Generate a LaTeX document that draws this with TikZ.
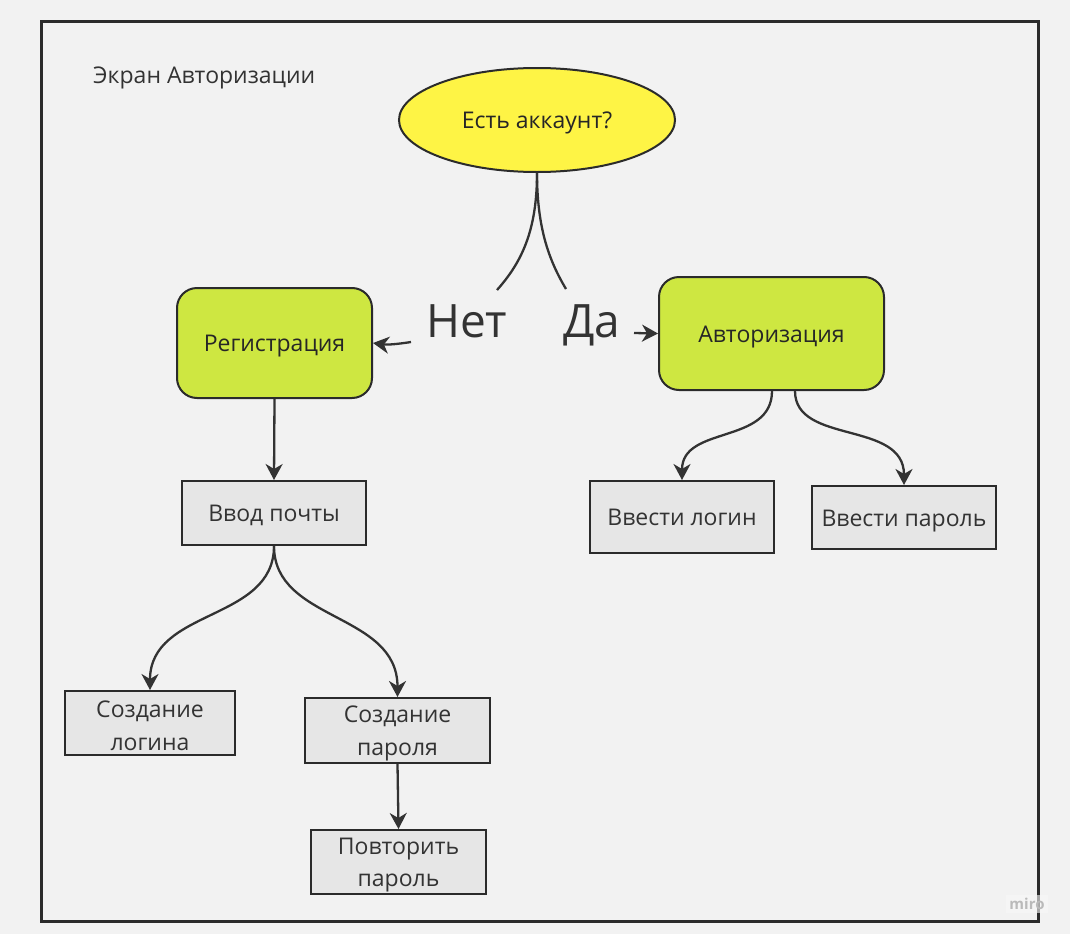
\documentclass[tikz,border=0pt]{standalone}
\usepackage{fontspec}
\setmainfont{Open Sans}
\usetikzlibrary{arrows.meta,shapes.geometric}
\definecolor{bg}{HTML}{F2F2F2}
\definecolor{ink}{HTML}{333333}
\definecolor{frame}{HTML}{2B2B2B}
\definecolor{yel}{HTML}{FEF445}
\definecolor{lime}{HTML}{CEE741}
\definecolor{boxgray}{HTML}{E6E6E6}
\tikzset{
  base/.style={draw=frame, line width=2pt, text=ink, font=\fontsize{23}{32.5}\selectfont, align=center, inner sep=0pt},
  oneline/.style={text height=22pt, text depth=5pt},
  twol/.style={align=center, text=ink, font=\fontsize{23}{32.5}\selectfont, inner sep=0pt, yshift=-3pt},
  greenbox/.style={base, oneline, fill=lime, rounded corners=20pt, text=black!85},
  graybox/.style={base, fill=boxgray},
  conn/.style={draw=ink, line width=2.3pt},
  arr/.style={conn, -{Stealth[length=16pt,width=17pt,inset=5pt]}},
  biglabel/.style={text=ink, font=\fontsize{46}{50}\selectfont, inner sep=0pt, anchor=base west}
}
\begin{document}
\begin{tikzpicture}[x=1pt,y=-1pt]
\useasboundingbox (0,0) rectangle (1070,934);
\fill[bg] (0,0) rectangle (1070,934);
\draw[frame, line width=3pt] (41,22) rectangle (1038,921);
\node[text=ink, font=\fontsize{23}{26}\selectfont, anchor=base west, inner sep=0pt] (title) at (93,83) {Экран Авторизации};

\node[base, oneline, ellipse, fill=yel, text=black!85, minimum width=276pt, minimum height=104pt] (q) at (537,120) {Есть аккаунт?};

\node[greenbox, minimum width=195pt, minimum height=110pt] (reg) at (274.5,343) {Регистрация};
\node[greenbox, minimum width=225pt, minimum height=113pt] (auth) at (771.5,333.5) {Авторизация};

\node[graybox, oneline, minimum width=184pt, minimum height=64pt] (mail) at (274,513) {Ввод почты};
\node[graybox, oneline, minimum width=184pt, minimum height=72pt] (login) at (682,517) {Ввести логин};
\node[graybox, oneline, minimum width=184pt, minimum height=63pt] (pass) at (904,517.5) {Ввести пароль};
\node[graybox, minimum width=170pt, minimum height=64pt, label={[twol]center:Создание\\логина}] (clogin) at (150,723) {};
\node[graybox, minimum width=185pt, minimum height=65pt, label={[twol]center:Создание\\пароля}] (cpass) at (397.5,730.5) {};
\node[graybox, minimum width=175pt, minimum height=64pt, label={[twol]center:Повторить\\пароль}] (rpass) at (398.5,862) {};

\node[biglabel] (no) at (426,337) {Нет};
\node[biglabel] (yes) at (563,337) {Да};
\coordinate (noTop) at (497,290);
\coordinate (yesTop) at (566,289);
\coordinate (noEnd) at (411,342);
\coordinate (yesEnd) at (634,333);

\node[text=black!27, font=\fontsize{15}{16}\selectfont\bfseries, fill=white!97!black, fill opacity=0.6, text opacity=1, inner sep=3pt] (miro) at (1027,904) {miro};

% connectors
\draw[conn] (q.south) .. controls (537,230) and (522,262) .. (noTop);
\draw[conn] (q.south) .. controls (537,230) and (550,262) .. (yesTop);
\draw[arr] (noEnd) .. controls (398,344) and (388,345) .. (reg.east);
\draw[arr] (yesEnd) -- (auth.west);
\draw[arr] (reg.south) -- (mail.north);
\draw[arr] (mail.south) .. controls (274,622) and (150,608) .. (clogin.north);
\draw[arr] (mail.south) .. controls (274,622) and (397.5,612) .. (cpass.north);
\draw[arr] (cpass.south) -- (rpass.north);
\draw[arr] ([xshift=0.5pt]auth.south) .. controls (772,445) and (682,425) .. (login.north);
\draw[arr] ([xshift=23.5pt]auth.south) .. controls (795,445) and (904,420) .. (pass.north);
\end{tikzpicture}
\end{document}
